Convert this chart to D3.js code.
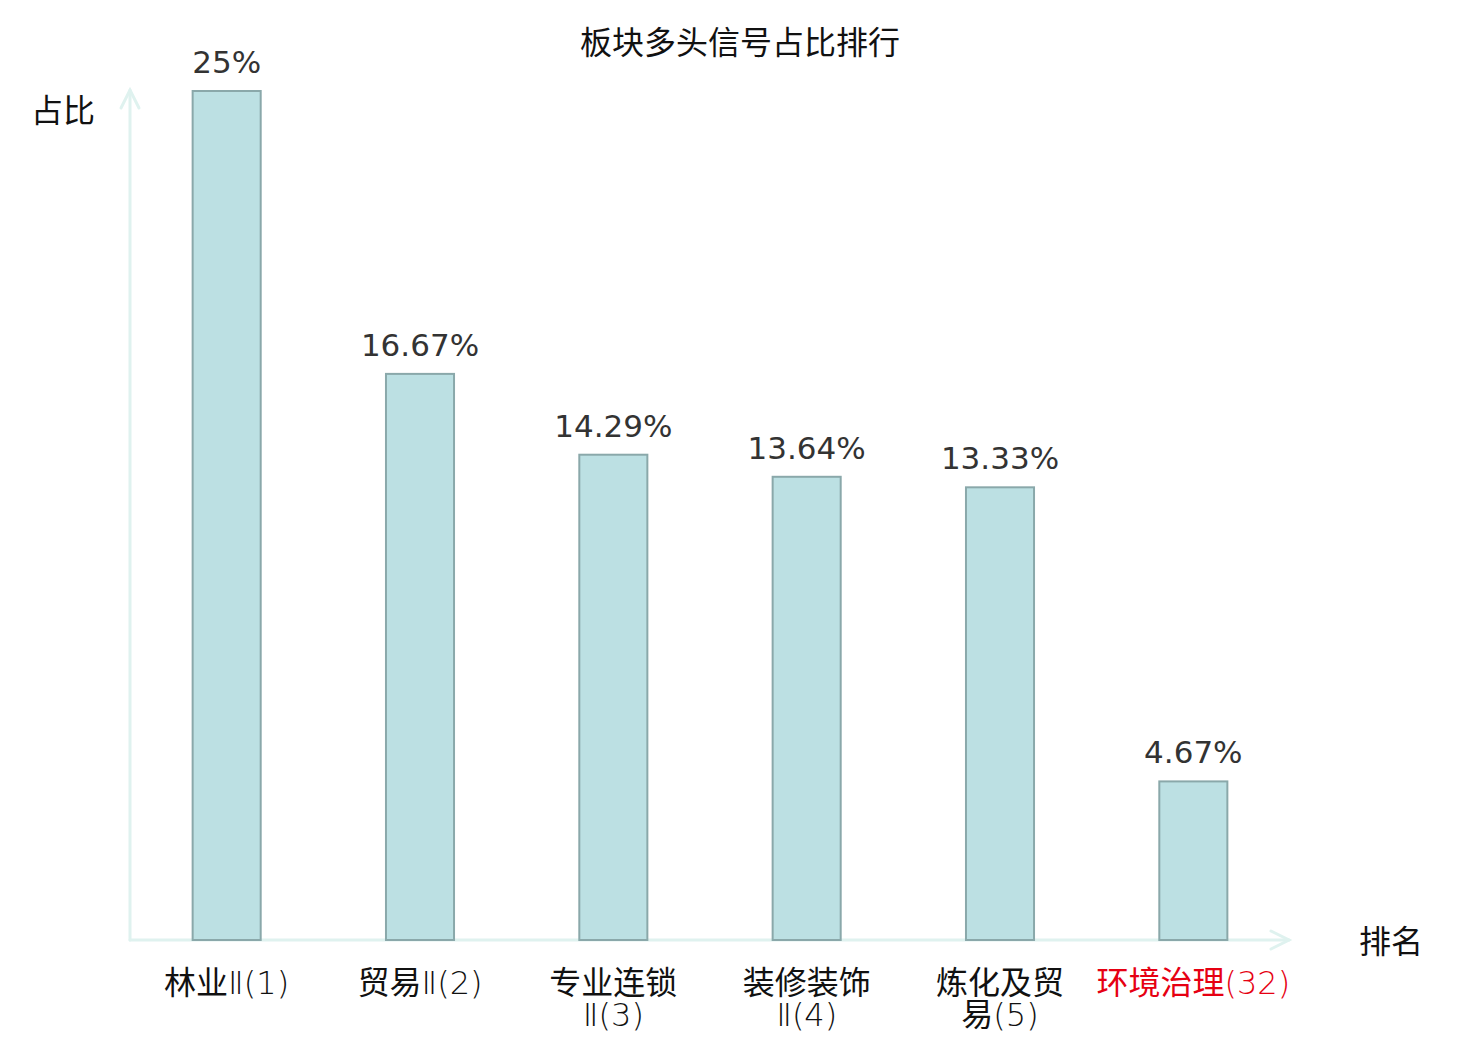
<!DOCTYPE html>
<html lang="zh">
<head>
  <meta charset="UTF-8">
  <title>板块多头信号占比排行</title>
  <script src="https://d3js.org/d3.v7.min.js"></script>
  <style>
    body, html {
      margin: 0;
      padding: 0;
      background: #fff;
    }
    svg {
      display: block;
    }
    .title, .axis-name {
      font-family: "Noto Sans CJK SC", "Noto Sans", sans-serif;
    }
    .tick-label {
      font-family: "DejaVu Sans Light", "DejaVu Sans ExtraLight", "Noto Sans CJK SC", sans-serif;
    }
    .value-label {
      font-family: "DejaVu Sans", sans-serif;
      font-size: 31px;
      fill: #333;
      text-anchor: middle;
    }
  </style>
</head>
<body>
  <svg id="chart" width="1480" height="1040"></svg>

  <script>
    // chart data
    const categories = ["林业Ⅱ(1)", "贸易Ⅱ(2)", "专业连锁Ⅱ(3)", "装修装饰Ⅱ(4)", "炼化及贸易(5)", "环境治理(32)"];
    const tickLines = [["林业Ⅱ(1)"], ["贸易Ⅱ(2)"], ["专业连锁", "Ⅱ(3)"], ["装修装饰", "Ⅱ(4)"], ["炼化及贸", "易(5)"], ["环境治理(32)"]];
    const values = [25, 16.67, 14.29, 13.64, 13.33, 4.67];
    const valueLabels = ["25%", "16.67%", "14.29%", "13.64%", "13.33%", "4.67%"];
    const highlighted = ["环境治理(32)"];

    const svg = d3.select("#chart");

    const plotLeft = 130, plotRight = 1290, plotBottom = 940, plotTop = 91;

    const x = d3.scaleBand()
      .domain(categories)
      .range([plotLeft, plotRight])
      .paddingInner(0.648)
      .paddingOuter(0.324);

    const y = d3.scaleLinear()
      .domain([0, d3.max(values)])
      .range([plotBottom, plotTop]);

    // title
    svg.append("text")
      .attr("class", "title")
      .attr("x", 740)
      .attr("y", 54)
      .attr("text-anchor", "middle")
      .attr("font-size", 32)
      .attr("fill", "#111")
      .text("板块多头信号占比排行");

    // axes with arrows
    const axisColor = "#dff2ef";
    const axes = svg.append("g")
      .attr("stroke", axisColor)
      .attr("stroke-width", 3)
      .attr("fill", "none")
      .attr("stroke-linecap", "round");

    axes.append("line")
      .attr("x1", plotLeft).attr("y1", plotBottom)
      .attr("x2", plotLeft).attr("y2", 90);
    axes.append("path")
      .attr("d", `M${plotLeft - 9},${108} L${plotLeft},${90} L${plotLeft + 9},${108}`);

    axes.append("line")
      .attr("x1", plotLeft).attr("y1", plotBottom)
      .attr("x2", 1289).attr("y2", plotBottom);
    axes.append("path")
      .attr("d", `M${1271},${plotBottom - 9} L${1289},${plotBottom} L${1271},${plotBottom + 9}`);

    // axis names
    svg.append("text")
      .attr("class", "axis-name")
      .attr("x", 63)
      .attr("y", 122)
      .attr("text-anchor", "middle")
      .attr("font-size", 32)
      .attr("fill", "#111")
      .text("占比");

    svg.append("text")
      .attr("class", "axis-name")
      .attr("x", 1391)
      .attr("y", 953)
      .attr("text-anchor", "middle")
      .attr("font-size", 32)
      .attr("fill", "#111")
      .text("排名");

    // bars
    svg.selectAll(".bar")
      .data(values)
      .enter().append("rect")
      .attr("class", "bar")
      .attr("x", (d, i) => x(categories[i]))
      .attr("y", d => y(d))
      .attr("width", x.bandwidth())
      .attr("height", d => y(0) - y(d))
      .attr("fill", "#bce0e3")
      .attr("stroke", "#8aa8aa")
      .attr("stroke-width", 2);

    // value labels
    svg.selectAll(".value-label")
      .data(values)
      .enter().append("text")
      .attr("class", "value-label")
      .attr("x", (d, i) => x(categories[i]) + x.bandwidth() / 2)
      .attr("y", d => y(d) - 18)
      .text((d, i) => valueLabels[i]);

    // category labels
    const ticks = svg.selectAll(".tick-label")
      .data(categories)
      .enter().append("text")
      .attr("class", "tick-label")
      .attr("text-anchor", "middle")
      .attr("font-size", 32)
      .attr("fill", d => highlighted.includes(d) ? "#e60012" : "#111")
      .attr("x", d => x(d) + x.bandwidth() / 2)
      .attr("y", 994);

    ticks.selectAll("tspan")
      .data((d, i) => tickLines[i])
      .enter().append("tspan")
      .attr("x", function () { return d3.select(this.parentNode).attr("x"); })
      .attr("dy", (d, i) => i === 0 ? 0 : 32)
      .text(d => d);
  </script>
</body>
</html>
